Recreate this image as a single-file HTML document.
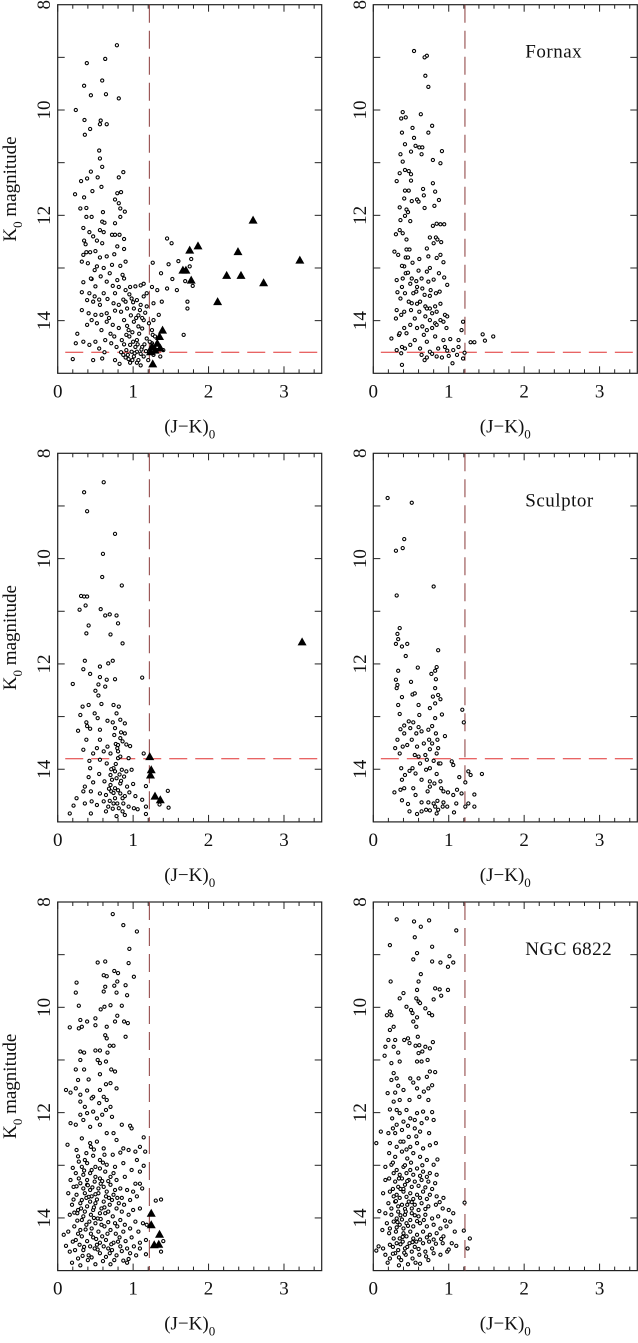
<!DOCTYPE html>
<html><head><meta charset="utf-8">
<style>
html,body{margin:0;padding:0;background:#fff;}
svg{display:block;}
text{font-family:"Liberation Serif",serif;fill:#111;}
</style></head>
<body>
<svg id="chart" width="638" height="1343" viewBox="0 0 638 1343" xmlns="http://www.w3.org/2000/svg"></svg>
<script>
// ---------- data (J-K colour, K0 magnitude) ----------
const xTicks = [0,1,2,3];
const yTicks = [8,10,12,14];
const panelLabels = ["", "Fornax", "", "Sculptor", "", "NGC 6822"];
const colourCut = [1.215, 1.215, 1.215, 1.215, 1.215, 1.215];
const tipLine = [14.6, 14.6, 13.8, 13.8, null, null];

const fornaxLeftStars = [[0.785,8.77],[0.386,9.11],[0.63,9.03],[0.35,9.54],[0.59,9.44],[0.44,9.72],[0.64,9.70],[0.81,9.78],[0.24,10.0],[0.355,10.19],[0.57,10.2],[0.43,10.36],[0.36,10.47],[0.56,10.27],[0.65,10.27],[0.55,10.77],[0.56,10.92],[0.59,11.08],[0.31,11.35],[0.39,11.3],[0.44,11.17],[0.87,11.18],[0.81,11.28],[0.53,11.28],[0.58,11.46],[0.46,11.54],[0.23,11.6],[0.35,11.66],[0.30,11.87],[0.38,11.86],[0.6,11.94],[0.79,11.58],[0.84,11.56],[0.76,11.7],[0.81,11.77],[0.83,11.87],[0.89,11.93],[0.38,12.03],[0.45,12.03],[0.59,12.12],[0.62,12.14],[0.76,12.15],[0.83,12.03],[0.34,12.24],[0.42,12.32],[0.56,12.28],[0.61,12.32],[0.72,12.37],[0.76,12.37],[0.82,12.37],[0.88,12.45],[0.35,12.48],[0.52,12.48],[0.59,12.53],[0.79,12.59],[0.88,12.64],[0.38,12.7],[0.43,12.7],[0.5,12.68],[0.34,12.75],[0.56,12.8],[0.65,12.78],[0.75,12.74],[0.32,12.88],[0.4,12.91],[0.52,12.97],[0.49,13.04],[0.61,13.0],[0.72,12.94],[0.83,12.96],[0.9,12.88],[0.86,13.13],[0.79,13.23],[0.88,13.2],[0.34,13.27],[0.45,13.21],[0.57,13.16],[0.65,13.26],[0.5,13.35],[0.73,13.34],[0.81,13.36],[0.32,13.46],[0.42,13.48],[0.49,13.54],[0.61,13.48],[0.76,13.48],[0.9,13.42],[0.96,13.36],[1.03,13.35],[1.1,13.33],[1.14,13.3],[0.39,13.61],[0.47,13.64],[0.56,13.7],[0.66,13.59],[0.74,13.67],[0.81,13.7],[0.9,13.64],[0.98,13.58],[1.05,13.61],[1.14,13.54],[1.18,13.48],[0.32,13.8],[0.41,13.86],[0.5,13.89],[0.58,13.89],[0.65,13.86],[0.76,13.81],[0.84,13.83],[0.92,13.77],[1.01,13.77],[1.09,13.8],[1.18,13.73],[1.27,13.67],[1.32,13.42],[1.25,13.36],[1.38,13.64],[1.45,13.39],[0.26,14.25],[0.39,14.08],[0.45,13.99],[0.52,14.05],[0.58,14.18],[0.65,14.02],[0.73,14.08],[0.81,14.14],[0.88,13.99],[0.94,14.18],[1.01,14.02],[1.07,14.11],[1.14,13.99],[1.21,14.05],[1.27,13.99],[1.34,13.89],[1.25,14.18],[0.24,14.43],[0.34,14.4],[0.42,14.46],[0.5,14.4],[0.55,14.53],[0.63,14.37],[0.71,14.43],[0.78,14.5],[0.85,14.37],[0.91,14.27],[0.96,14.46],[1.05,14.37],[1.12,14.5],[1.18,14.34],[1.25,14.43],[1.32,14.5],[1.4,14.56],[0.2,14.73],[0.47,14.75],[0.59,14.72],[0.76,14.75],[0.87,14.65],[0.94,14.73],[1.01,14.68],[1.07,14.75],[1.14,14.68],[1.21,14.59],[1.27,14.65],[1.36,14.68],[0.98,14.59],[0.91,14.56],[1.05,14.59],[1.1,14.63],[1.26,14.27],[1.45,12.44],[1.51,12.53],[1.26,12.9],[1.6,12.87],[1.47,12.93],[1.77,12.83],[1.75,12.97],[1.37,13.1],[1.52,13.21],[1.69,13.25],[1.79,13.34],[1.58,13.42],[1.72,13.64],[1.72,13.77],[1.67,14.27],[0.95,14.3],[1.0,14.4],[1.03,14.5],[1.08,14.25],[1.12,14.15],[1.15,14.45],[0.93,14.65],[0.99,14.75],[1.05,14.8],[1.11,14.55],[0.97,13.9],[1.04,13.95],[1.1,13.7],[1.16,13.85],[0.88,14.45],[0.84,14.6],[1.2,14.75],[1.29,14.3],[0.92,14.1],[0.99,14.22],[1.06,14.45],[1.17,14.58],[1.02,14.62],[0.9,14.7],[0.96,14.8],[1.1,14.85],[1.22,14.4],[1.0,13.65],[1.07,13.9],[0.87,13.6],[0.95,13.5],[1.12,13.95],[0.68,13.95],[0.7,14.25],[0.62,14.6],[0.82,14.82],[0.75,14.3],[0.55,13.6],[0.44,13.2],[0.69,13.1],[0.37,12.55],[0.47,12.4]];
const fornaxLeftCarbon = [[2.59,12.09],[1.86,12.58],[1.75,12.66],[2.39,12.69],[3.21,12.85],[1.66,13.04],[1.7,13.04],[1.77,13.23],[2.24,13.14],[2.43,13.14],[2.73,13.28],[2.12,13.64],[1.39,14.18],[1.35,14.3],[1.32,14.43],[1.25,14.49],[1.36,14.52],[1.29,14.56],[1.26,14.82],[1.23,14.59]];

const fornaxRightStars = [[0.54,8.88],[0.71,8.97],[0.68,9.0],[0.69,9.35],[0.73,9.56],[0.39,10.04],[0.37,10.16],[0.43,10.14],[0.63,10.08],[0.78,10.3],[0.52,10.34],[0.38,10.43],[0.73,10.43],[0.54,10.53],[0.42,10.65],[0.56,10.68],[0.61,10.71],[0.65,10.71],[0.5,10.79],[0.36,10.84],[0.64,10.84],[0.91,10.78],[0.39,10.98],[0.79,10.95],[0.89,11.01],[0.42,11.14],[0.47,11.16],[0.5,11.22],[0.35,11.2],[0.31,11.35],[0.5,11.34],[0.79,11.39],[0.66,11.5],[0.42,11.53],[0.47,11.53],[0.82,11.55],[0.67,11.62],[0.41,11.68],[0.58,11.7],[0.6,11.74],[0.51,11.73],[0.87,11.71],[0.81,11.82],[0.68,11.86],[0.35,11.85],[0.44,11.89],[0.46,11.94],[0.42,12.01],[0.36,12.09],[0.49,12.11],[0.79,12.2],[0.84,12.16],[0.89,12.17],[0.94,12.17],[0.35,12.28],[0.3,12.36],[0.39,12.34],[0.44,12.46],[0.75,12.42],[0.83,12.42],[0.85,12.46],[0.8,12.53],[0.9,12.51],[0.28,12.69],[0.33,12.75],[0.44,12.65],[0.48,12.65],[0.71,12.63],[0.43,12.8],[0.46,12.8],[0.61,12.83],[0.73,12.78],[0.84,12.81],[0.89,12.75],[0.41,12.97],[0.52,12.9],[0.93,12.89],[0.38,12.96],[0.43,13.1],[0.46,13.09],[0.6,13.05],[0.71,13.07],[0.75,13.0],[0.87,13.1],[0.31,13.23],[0.39,13.2],[0.51,13.2],[0.57,13.25],[0.64,13.2],[0.73,13.26],[0.8,13.22],[0.94,13.18],[0.98,13.32],[0.38,13.36],[0.49,13.3],[0.58,13.36],[0.65,13.39],[0.76,13.42],[0.88,13.45],[0.32,13.46],[0.42,13.48],[0.53,13.48],[0.57,13.45],[0.68,13.51],[0.75,13.53],[0.83,13.48],[0.36,13.58],[0.47,13.64],[0.51,13.67],[0.58,13.68],[0.62,13.64],[0.69,13.73],[0.75,13.77],[0.82,13.73],[0.89,13.68],[0.31,13.8],[0.41,13.83],[0.5,13.8],[0.61,13.83],[0.71,13.77],[0.78,13.86],[0.84,13.83],[0.95,13.89],[0.3,13.96],[0.37,13.89],[0.55,13.96],[0.69,13.92],[0.75,13.99],[0.82,14.05],[0.89,13.99],[0.93,14.02],[0.98,13.92],[1.19,14.02],[0.41,14.14],[0.49,14.08],[0.58,14.14],[0.65,14.11],[0.71,14.18],[0.78,14.14],[0.84,14.08],[0.97,14.14],[1.17,14.18],[0.24,14.34],[0.34,14.27],[0.35,14.24],[0.44,14.24],[0.55,14.37],[0.67,14.27],[0.71,14.4],[0.82,14.3],[0.93,14.37],[1.02,14.35],[1.13,14.37],[1.29,14.41],[1.34,14.41],[1.45,14.26],[1.48,14.38],[1.59,14.3],[0.31,14.56],[0.38,14.5],[0.42,14.53],[0.49,14.46],[0.62,14.53],[0.75,14.59],[0.86,14.53],[0.95,14.5],[0.98,14.57],[1.06,14.56],[1.13,14.5],[1.21,14.61],[0.37,14.62],[0.64,14.65],[0.68,14.75],[0.71,14.7],[0.84,14.68],[0.91,14.7],[1.0,14.67],[1.05,14.81],[1.11,14.65],[1.19,14.72],[0.38,14.84],[0.78,14.63]];
const fornaxRightCarbon = [];

const sculptorLeftStars = [[0.61,8.55],[0.35,8.74],[0.39,9.1],[0.76,9.53],[0.6,9.91],[0.59,10.35],[0.85,10.51],[0.31,10.71],[0.35,10.72],[0.39,10.72],[0.37,10.89],[0.29,10.97],[0.57,10.96],[0.63,11.08],[0.69,11.06],[0.78,11.08],[0.8,11.23],[0.41,11.27],[0.38,11.42],[0.7,11.44],[0.86,11.61],[0.36,11.94],[0.67,11.99],[0.73,11.94],[0.34,12.1],[0.43,12.19],[0.56,12.05],[0.2,12.38],[0.56,12.25],[0.65,12.3],[0.76,12.29],[1.12,12.26],[0.54,12.39],[0.63,12.43],[0.5,12.51],[0.54,12.6],[0.33,12.81],[0.41,12.78],[0.58,12.76],[0.74,12.78],[0.81,12.81],[0.78,12.94],[0.3,12.97],[0.49,12.94],[0.53,13.03],[0.66,13.08],[0.73,13.11],[0.83,13.06],[0.89,13.13],[0.38,13.11],[0.39,13.18],[0.27,13.27],[0.43,13.23],[0.56,13.25],[0.76,13.22],[0.84,13.3],[0.89,13.32],[0.38,13.44],[0.56,13.44],[0.83,13.41],[0.86,13.47],[0.77,13.52],[0.8,13.54],[0.34,13.63],[0.52,13.6],[0.61,13.66],[0.7,13.7],[0.8,13.66],[0.91,13.53],[0.96,13.56],[0.47,13.7],[0.66,13.57],[1.14,13.7],[0.42,13.84],[0.8,13.79],[0.83,13.76],[0.94,13.79],[0.56,13.82],[0.65,13.89],[0.74,13.98],[0.43,13.98],[0.76,14.04],[0.85,14.01],[0.91,14.04],[0.98,14.01],[0.41,14.15],[0.55,14.09],[0.7,14.11],[0.78,14.17],[0.88,14.14],[0.36,14.33],[0.47,14.25],[0.62,14.23],[0.7,14.3],[0.76,14.36],[0.83,14.27],[0.92,14.33],[1.0,14.28],[1.17,14.32],[1.46,14.41],[0.25,14.55],[0.34,14.42],[0.44,14.42],[0.56,14.46],[0.64,14.49],[0.71,14.42],[0.76,14.55],[0.83,14.46],[0.89,14.51],[0.95,14.44],[1.03,14.51],[0.21,14.69],[0.36,14.65],[0.45,14.61],[0.52,14.68],[0.61,14.61],[0.67,14.71],[0.74,14.65],[0.81,14.74],[0.87,14.65],[0.94,14.71],[1.01,14.74],[1.06,14.76],[1.12,14.58],[1.17,14.71],[0.16,14.84],[0.44,14.84],[0.64,14.8],[0.78,14.89],[0.89,14.87],[1.17,14.85],[1.35,14.67],[1.47,14.73],[0.72,14.2],[0.8,14.4],[0.86,14.55],[0.74,14.45],[0.69,14.6],[0.79,14.65],[0.84,14.22],[0.68,14.37],[0.77,13.9],[0.82,14.1],[0.73,14.75],[0.86,14.8],[0.71,14.0],[0.79,13.6],[0.75,13.35]];
const sculptorLeftCarbon = [[3.24,11.58],[1.22,13.76],[1.24,14.01],[1.23,14.11],[1.29,14.51],[1.36,14.58]];

const sculptorRightStars = [[0.19,8.85],[0.51,8.94],[0.41,9.63],[0.3,9.85],[0.39,9.8],[0.8,10.53],[0.31,10.7],[0.35,11.32],[0.32,11.43],[0.33,11.53],[0.3,11.62],[0.38,11.67],[0.45,11.62],[0.43,11.85],[0.86,11.74],[0.59,12.07],[0.84,12.06],[0.82,12.13],[0.33,12.13],[0.77,12.19],[0.3,12.3],[0.32,12.4],[0.31,12.46],[0.5,12.34],[0.83,12.29],[0.82,12.46],[0.38,12.63],[0.52,12.58],[0.55,12.56],[0.79,12.62],[0.86,12.59],[0.89,12.67],[0.82,12.75],[0.33,12.78],[0.6,12.78],[0.75,12.84],[0.35,12.95],[0.91,12.96],[0.61,12.97],[0.82,13.03],[1.18,12.87],[1.2,13.11],[0.47,13.09],[0.53,13.11],[0.36,13.24],[0.41,13.17],[0.49,13.22],[0.6,13.2],[0.64,13.28],[0.73,13.25],[0.78,13.18],[0.83,13.32],[0.95,13.37],[0.41,13.32],[0.57,13.32],[0.32,13.44],[0.51,13.44],[0.74,13.44],[0.85,13.44],[0.45,13.54],[0.58,13.57],[0.67,13.51],[0.78,13.51],[0.29,13.6],[0.39,13.57],[0.75,13.62],[0.86,13.6],[0.35,13.7],[0.55,13.73],[0.6,13.76],[0.69,13.73],[0.84,13.7],[0.71,13.82],[0.8,13.84],[0.87,13.89],[0.62,13.89],[1.04,13.85],[1.06,13.92],[0.37,13.98],[0.48,14.03],[0.52,13.98],[0.7,14.01],[0.75,13.98],[0.89,13.89],[0.84,14.09],[1.26,14.04],[1.29,14.11],[1.44,14.09],[0.38,14.2],[0.42,14.11],[0.56,14.08],[0.64,14.2],[0.75,14.23],[0.81,14.27],[0.89,14.23],[1.14,14.15],[1.22,14.25],[0.28,14.44],[0.36,14.39],[0.41,14.36],[0.53,14.36],[0.56,14.49],[0.72,14.42],[0.75,14.33],[0.9,14.36],[0.93,14.42],[0.99,14.44],[1.06,14.49],[1.11,14.39],[1.17,14.46],[1.34,14.48],[0.38,14.59],[0.46,14.66],[0.64,14.63],[0.73,14.63],[0.8,14.65],[0.85,14.6],[0.93,14.63],[0.98,14.71],[1.1,14.65],[1.26,14.65],[0.48,14.8],[0.58,14.85],[0.64,14.8],[0.7,14.77],[0.75,14.78],[0.82,14.71],[0.84,14.84],[0.86,14.77],[0.92,14.71],[1.07,14.82],[1.22,14.71],[1.34,14.71]];
const sculptorRightCarbon = [];

const ngcLeftStars = [[0.73,8.23],[0.87,8.44],[1.05,8.56],[0.95,8.89],[0.53,9.15],[0.63,9.13],[0.94,9.16],[0.75,9.31],[0.61,9.39],[0.65,9.41],[0.8,9.35],[1.01,9.42],[0.25,9.53],[0.79,9.51],[0.63,9.61],[0.75,9.59],[0.9,9.58],[0.61,9.7],[0.78,9.72],[0.24,9.72],[0.92,9.77],[0.28,9.97],[0.7,9.96],[0.62,9.99],[0.57,10.04],[0.85,9.97],[0.79,10.16],[0.16,10.38],[0.28,10.4],[0.32,10.37],[0.3,10.24],[0.39,10.27],[0.5,10.34],[0.5,10.21],[0.65,10.37],[0.76,10.27],[0.88,10.27],[0.93,10.3],[0.9,10.56],[0.63,10.53],[0.65,10.59],[0.74,10.73],[0.5,10.82],[0.56,10.82],[0.35,10.86],[0.3,10.84],[0.66,10.86],[0.69,10.73],[0.56,11.06],[0.53,11.0],[0.64,11.03],[0.71,11.18],[0.76,11.22],[0.3,11.0],[0.35,11.18],[0.24,11.18],[0.41,11.37],[0.27,11.38],[0.56,11.27],[0.64,11.46],[0.7,11.44],[0.78,11.54],[0.11,11.57],[0.17,11.62],[0.24,11.54],[0.3,11.66],[0.39,11.58],[0.47,11.7],[0.56,11.57],[0.61,11.7],[0.65,11.76],[0.3,11.79],[0.36,11.89],[0.45,11.73],[0.55,11.82],[0.7,11.89],[0.17,12.2],[0.24,12.23],[0.3,12.04],[0.34,12.14],[0.39,12.01],[0.47,11.98],[0.52,12.11],[0.59,12.04],[0.64,11.95],[0.72,12.08],[0.85,12.23],[0.96,12.25],[0.98,12.3],[0.43,12.27],[0.56,12.23],[0.13,12.61],[1.14,12.47],[1.09,12.65],[1.16,12.74],[1.14,13.01],[1.05,12.9],[1.03,12.74],[0.94,12.71],[0.87,12.68],[0.83,12.76],[0.73,12.8],[0.61,12.68],[0.78,12.52],[0.65,12.39],[0.74,12.39],[0.32,12.49],[0.43,12.58],[0.52,12.55],[0.25,12.71],[0.38,12.77],[0.47,12.82],[0.56,12.9],[0.28,12.93],[0.39,12.96],[0.5,13.03],[0.65,12.99],[0.76,13.03],[0.87,12.96],[0.98,13.09],[1.09,13.12],[0.17,13.28],[0.24,13.15],[0.34,13.18],[0.43,13.15],[0.56,13.25],[0.7,13.22],[0.78,13.28],[0.89,13.22],[1.03,13.35],[1.09,13.35],[0.14,13.53],[0.21,13.41],[0.3,13.34],[0.39,13.37],[0.49,13.31],[0.61,13.41],[0.7,13.37],[0.83,13.44],[0.92,13.47],[1.0,13.5],[1.12,13.44],[1.3,13.67],[1.37,13.65],[0.25,13.56],[0.36,13.53],[0.45,13.59],[0.54,13.53],[0.64,13.59],[0.74,13.56],[0.85,13.62],[0.96,13.66],[1.05,13.59],[0.19,13.75],[0.3,13.72],[0.39,13.78],[0.5,13.72],[0.58,13.82],[0.69,13.75],[0.78,13.82],[0.88,13.75],[1.0,13.85],[1.09,13.82],[0.16,13.94],[0.26,13.91],[0.34,13.97],[0.44,13.94],[0.53,14.01],[0.63,13.91],[0.73,13.97],[0.83,14.04],[0.94,13.94],[1.03,14.07],[1.13,14.1],[1.18,14.13],[0.08,14.32],[0.14,14.26],[0.22,14.16],[0.3,14.23],[0.38,14.13],[0.45,14.2],[0.54,14.26],[0.62,14.16],[0.7,14.23],[0.79,14.16],[0.87,14.26],[0.96,14.2],[1.07,14.26],[0.11,14.53],[0.16,14.64],[0.24,14.42],[0.32,14.35],[0.39,14.44],[0.47,14.37],[0.56,14.47],[0.64,14.42],[0.74,14.47],[0.82,14.37],[0.9,14.44],[0.98,14.37],[1.09,14.47],[1.17,14.42],[1.4,14.44],[1.37,14.64],[0.27,14.77],[0.34,14.61],[0.41,14.71],[0.49,14.58],[0.56,14.67],[0.64,14.74],[0.72,14.61],[0.78,14.71],[0.87,14.81],[0.96,14.67],[1.04,14.71],[1.17,14.69],[0.23,14.61],[0.29,14.51],[0.43,14.54],[0.52,14.51],[0.61,14.54],[0.67,14.58],[0.83,14.54],[0.92,14.58],[1.01,14.54],[1.09,14.58],[0.32,14.04],[0.42,14.07],[0.5,14.1],[0.58,14.13],[0.76,14.1],[0.89,14.13],[0.36,13.88],[0.47,13.85],[0.56,13.91],[0.67,13.88],[0.85,13.88],[0.32,13.66],[0.43,13.69],[0.61,13.69],[0.72,13.66],[0.81,13.72],[0.34,13.44],[0.43,13.47],[0.54,13.44],[0.65,13.5],[0.76,13.47],[0.28,13.25],[0.39,13.28],[0.5,13.22],[0.63,13.12],[0.74,13.15],[0.32,13.03],[0.45,13.09],[0.56,13.06],[0.27,14.3],[0.35,14.55],[0.44,14.3],[0.51,14.4],[0.59,14.35],[0.66,14.3],[0.71,14.5],[0.8,14.45],[0.2,14.45],[0.4,14.8],[0.6,14.82],[0.75,14.8],[0.3,14.9],[0.5,14.88],[0.7,14.88],[0.92,14.85],[0.21,13.65],[0.27,13.85],[0.41,13.6],[0.52,13.65],[0.68,13.62],[0.79,13.62],[0.25,13.4],[0.46,13.42],[0.59,13.3],[0.67,13.3],[0.2,13.05],[0.36,12.9],[0.6,12.95],[0.44,12.65],[0.26,14.05],[0.37,14.22],[0.48,14.0],[0.57,14.02],[0.67,14.08],[0.77,14.3],[0.85,14.63],[0.94,14.78],[0.19,14.85],[0.33,14.72],[0.45,14.75],[0.53,14.6],[0.69,14.67],[0.38,13.62],[0.48,13.8],[0.62,13.8],[0.22,13.9],[0.31,13.82],[0.4,13.38],[0.5,13.55],[0.57,13.35],[0.35,13.1],[0.27,12.83],[0.48,12.7],[0.62,12.8]];
const ngcLeftCarbon = [[1.24,13.91],[1.24,14.13],[1.35,14.31],[1.28,14.51],[1.34,14.5]];

const ngcRightStars = [[0.31,8.33],[0.54,8.37],[0.74,8.35],[0.63,8.47],[1.1,8.54],[0.55,8.67],[0.22,8.82],[0.78,8.85],[0.58,8.97],[0.53,9.09],[0.78,9.13],[0.89,9.15],[1.01,9.03],[0.99,9.23],[1.06,9.15],[0.63,9.37],[0.6,9.51],[0.23,9.51],[0.82,9.64],[0.88,9.66],[0.99,9.67],[0.58,9.67],[0.4,9.73],[0.35,9.83],[0.57,9.83],[0.8,9.85],[0.9,9.78],[0.18,10.15],[0.22,10.08],[0.24,10.15],[0.44,9.99],[0.5,10.05],[0.6,9.89],[0.62,9.92],[0.69,10.02],[0.74,10.11],[0.78,10.15],[0.52,10.11],[0.58,10.19],[0.27,10.37],[0.22,10.43],[0.53,10.27],[0.57,10.37],[0.59,10.56],[0.16,10.75],[0.15,10.92],[0.27,10.75],[0.29,10.62],[0.2,10.62],[0.41,10.62],[0.46,10.59],[0.48,10.68],[0.56,10.73],[0.61,10.72],[0.69,10.75],[0.79,10.66],[0.33,10.86],[0.24,11.06],[0.35,11.03],[0.58,11.03],[0.64,11.03],[0.72,11.0],[0.6,10.87],[0.65,10.84],[0.75,10.78],[0.27,11.25],[0.24,11.38],[0.31,11.35],[0.49,11.35],[0.53,11.43],[0.6,11.35],[0.71,11.32],[0.75,11.22],[0.82,11.23],[0.33,11.49],[0.4,11.57],[0.58,11.54],[0.67,11.6],[0.73,11.54],[0.78,11.48],[0.19,11.63],[0.29,11.62],[0.35,11.76],[0.48,11.76],[0.61,11.7],[0.73,11.76],[0.27,11.79],[0.22,11.94],[0.31,11.95],[0.35,12.01],[0.44,11.95],[0.49,12.11],[0.58,12.01],[0.66,11.98],[0.78,11.99],[0.8,12.14],[0.25,12.11],[0.31,12.23],[0.4,12.17],[0.55,12.14],[0.64,12.2],[0.71,12.11],[0.1,12.36],[0.04,12.58],[0.2,12.39],[0.29,12.39],[0.38,12.33],[0.47,12.46],[0.55,12.3],[0.62,12.36],[0.74,12.39],[0.22,12.58],[0.31,12.65],[0.4,12.55],[0.49,12.65],[0.58,12.58],[0.66,12.68],[0.75,12.62],[0.83,12.58],[0.85,12.89],[0.21,12.77],[0.29,12.84],[0.38,12.74],[0.45,12.87],[0.53,12.77],[0.62,12.84],[0.71,12.9],[0.8,12.99],[0.16,13.03],[0.24,12.99],[0.31,13.09],[0.4,13.03],[0.49,13.09],[0.58,13.06],[0.66,13.12],[0.75,13.15],[0.84,13.18],[0.16,13.28],[0.21,13.25],[0.29,13.31],[0.38,13.25],[0.47,13.28],[0.55,13.31],[0.64,13.28],[0.73,13.31],[0.82,13.34],[0.13,13.53],[0.22,13.5],[0.31,13.56],[0.4,13.5],[0.49,13.53],[0.58,13.56],[0.66,13.5],[0.75,13.56],[0.84,13.59],[0.93,13.62],[0.2,13.72],[0.29,13.69],[0.38,13.75],[0.47,13.69],[0.55,13.75],[0.64,13.72],[0.73,13.78],[0.83,13.75],[0.92,13.82],[1.0,13.85],[1.06,13.91],[1.21,13.71],[0.08,13.87],[0.16,13.91],[0.24,13.94],[0.33,13.88],[0.42,13.94],[0.51,13.91],[0.6,13.97],[0.69,13.94],[0.78,14.01],[0.86,13.97],[1.02,14.07],[0.18,14.1],[0.27,14.07],[0.35,14.13],[0.44,14.1],[0.53,14.16],[0.62,14.1],[0.71,14.16],[0.8,14.13],[0.89,14.2],[0.97,14.16],[0.12,14.23],[0.21,14.29],[0.3,14.26],[0.4,14.29],[0.49,14.26],[0.58,14.32],[0.66,14.26],[0.75,14.32],[0.84,14.29],[0.93,14.35],[1.08,14.26],[1.2,14.24],[1.28,14.39],[0.07,14.54],[0.04,14.62],[0.13,14.58],[0.22,14.51],[0.31,14.48],[0.39,14.45],[0.48,14.48],[0.57,14.45],[0.66,14.48],[0.74,14.45],[0.83,14.49],[0.92,14.48],[1.04,14.48],[1.1,14.53],[1.25,14.58],[0.16,14.7],[0.22,14.77],[0.29,14.67],[0.37,14.8],[0.43,14.7],[0.52,14.77],[0.56,14.85],[0.62,14.87],[0.61,14.7],[0.7,14.73],[0.73,14.8],[0.8,14.67],[0.89,14.7],[0.98,14.64],[0.33,14.61],[0.42,14.58],[0.51,14.64],[0.6,14.59],[0.69,14.64],[0.78,14.58],[0.27,14.39],[0.35,14.39],[0.44,14.35],[0.53,14.39],[0.62,14.41],[0.71,14.37],[0.8,14.41],[0.22,14.2],[0.31,14.18],[0.4,14.2],[0.49,14.04],[0.58,14.06],[0.67,14.04],[0.31,14.01],[0.38,14.03],[0.24,13.82],[0.33,13.78],[0.42,13.83],[0.51,13.82],[0.6,13.85],[0.69,13.83],[0.27,13.59],[0.35,13.62],[0.44,13.6],[0.53,13.64],[0.62,13.62],[0.71,13.64],[0.33,13.41],[0.42,13.37],[0.51,13.41],[0.6,13.39],[0.69,13.42],[0.27,13.15],[0.35,13.18],[0.44,13.15],[0.53,13.18],[0.62,13.2],[0.71,13.22],[0.36,14.5],[0.45,14.55],[0.26,14.55],[0.55,14.55],[0.46,14.88],[0.34,14.9],[0.19,14.85],[0.46,14.15],[0.36,13.95],[0.45,13.75],[0.36,13.45],[0.26,13.45],[0.45,13.3],[0.34,14.75],[0.41,14.66],[0.26,14.68],[0.52,14.46],[0.39,14.36],[0.32,14.08],[0.55,13.95],[0.43,13.88],[0.3,13.68],[0.51,13.7],[0.4,13.45],[0.34,13.25],[0.42,13.0],[0.26,12.95],[0.5,12.95],[0.36,12.55],[0.44,12.7],[0.57,12.45],[0.26,12.3],[0.46,12.25],[0.65,13.0],[0.78,13.45],[0.88,13.7],[0.95,14.05],[0.9,14.4],[1.0,14.6]];
const ngcRightCarbon = [];

const panelStars = [fornaxLeftStars, fornaxRightStars, sculptorLeftStars, sculptorRightStars, ngcLeftStars, ngcRightStars];
const panelCarbon = [fornaxLeftCarbon, fornaxRightCarbon, sculptorLeftCarbon, sculptorRightCarbon, ngcLeftCarbon, ngcRightCarbon];
const panelNames = ["fornax-left","fornax-right","sculptor-left","sculptor-right","ngc6822-left","ngc6822-right"];

// ---------- layout ----------
const NS = "http://www.w3.org/2000/svg";
const svg = document.getElementById("chart");
const colLeft = [57.7, 373.3];
const rowTop = [4.7, 453.3, 902];
const PW = 264, PH = 368.6;
const XMIN = 0, XMAX = 3.5, YMIN = 8, YMAX = 15;

function mk(tag, attrs, parent) {
  const e = document.createElementNS(NS, tag);
  for (const k in attrs) e.setAttribute(k, attrs[k]);
  parent.appendChild(e);
  return e;
}

for (let p = 0; p < 6; p++) {
  const col = p % 2, row = Math.floor(p / 2);
  const L = colLeft[col], T = rowTop[row];
  const xs = v => L + (v - XMIN) / (XMAX - XMIN) * PW;
  const ys = v => T + (v - YMIN) / (YMAX - YMIN) * PH;

  const g = mk("g", {}, svg);
  
  

  const fr = mk("rect", {x:L, y:T, width:PW, height:PH, fill:"none", stroke:"#222", "stroke-width":1.2}, g);
  
  

  for (let i = 0; i <= 17; i++) {
    const v = i * 0.2;
    const len = (i % 5 === 0) ? 7 : 4;
    const X = xs(v);
    const t1 = mk("line", {x1:X, y1:T+PH, x2:X, y2:T+PH-len, stroke:"#222", "stroke-width":1}, g);
    
    
    const t2 = mk("line", {x1:X, y1:T, x2:X, y2:T+len, stroke:"#222", "stroke-width":1}, g);
    
    
  }
  for (let v = 9; v <= 14; v++) {
    const Y = ys(v);
    const t1 = mk("line", {x1:L, y1:Y, x2:L+7, y2:Y, stroke:"#222", "stroke-width":1}, g);
    
    
    const t2 = mk("line", {x1:L+PW, y1:Y, x2:L+PW-7, y2:Y, stroke:"#222", "stroke-width":1}, g);
    
    
  }
  xTicks.forEach(v => {
    const t = mk("text", {x:xs(v), y:T+PH+24, "text-anchor":"middle", "font-size":19}, g);
    t.textContent = String(v);
    
    
  });
  yTicks.forEach(v => {
    const cx = L - 13, cy = ys(v);
    const t = mk("text", {x:cx, y:cy, "text-anchor":"middle", "dominant-baseline":"central", "font-size":19, transform:`rotate(-90 ${cx} ${cy})`}, g);
    t.textContent = String(v);
    
    
  });
  const xt = mk("text", {x:L+PW/2, y:T+PH+59, "text-anchor":"middle", "font-size":19}, g);
  xt.innerHTML = '(J\u2212K)<tspan font-size="13" dy="6">0</tspan>';
  
  
  if (col === 0) {
    const cx = 16, cy = T + PH/2;
    const yt = mk("text", {x:cx, y:cy, "text-anchor":"middle", "font-size":19, transform:`rotate(-90 ${cx} ${cy})`}, g);
    yt.innerHTML = 'K<tspan font-size="13" dy="6">0</tspan><tspan dy="-6"> magnitude</tspan>';
    
    
  }
  if (panelLabels[p]) {
    const gl = mk("text", {x:L+152, y:T+53, "font-size":19, "letter-spacing":"0.5"}, g);
    gl.textContent = panelLabels[p];
    
    
  }
  const vl = mk("line", {x1:xs(colourCut[p]), y1:T, x2:xs(colourCut[p]), y2:T+PH, stroke:"#8a3a3a", "stroke-width":1, "stroke-dasharray":"18 8"}, g);
  
  
  if (tipLine[p] !== null) {
    const hl = mk("line", {x1:xs(0.1), y1:ys(tipLine[p]), x2:L+PW, y2:ys(tipLine[p]), stroke:"#e03030", "stroke-width":1, "stroke-dasharray":"18 8"}, g);
    
    
  }
  panelStars[p].forEach(d => {
    const c = mk("circle", {cx:xs(d[0]), cy:ys(d[1]), r:1.6, fill:"#fff", stroke:"#000", "stroke-width":1.05}, g);
    
    
  });
  panelCarbon[p].forEach(d => {
    const X = xs(d[0]), Y = ys(d[1]);
    const tr = mk("polygon", {points:`${X-4.5},${Y+3.5} ${X+4.5},${Y+3.5} ${X},${Y-4.5}`, fill:"#000"}, g);
    
    
  });
}
</script>
</body></html>
